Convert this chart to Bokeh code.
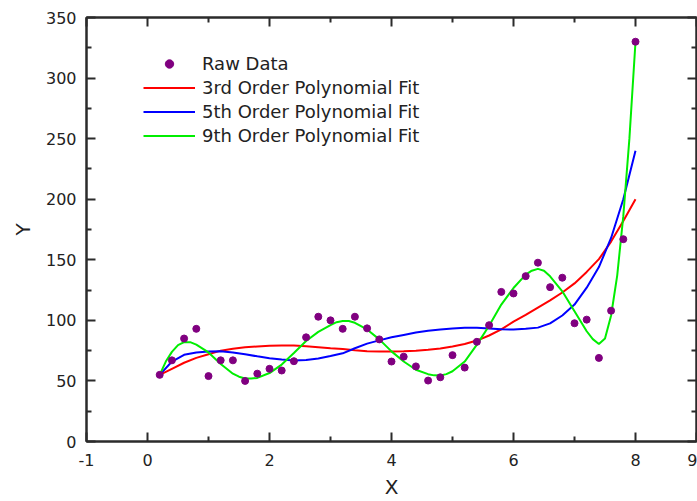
from bokeh.plotting import figure
from bokeh.models import LinearAxis, FixedTicker, Legend, LegendItem, Range1d
from bokeh.embed import file_html
from bokeh.resources import INLINE

# ---- data ----
x_raw = [0.2, 0.4, 0.6, 0.8, 1.0, 1.2, 1.4, 1.6, 1.8, 2.0,
         2.2, 2.4, 2.6, 2.8, 3.0, 3.2, 3.4, 3.6, 3.8, 4.0,
         4.2, 4.4, 4.6, 4.8, 5.0, 5.2, 5.4, 5.6, 5.8, 6.0,
         6.2, 6.4, 6.6, 6.8, 7.0, 7.2, 7.4, 7.6, 7.8, 8.0]
y_raw = [55, 67, 85, 93, 54, 67, 67, 50, 56, 60,
         58.6, 66.3, 86, 103, 100, 93, 103, 93.4, 84.3, 66,
         70, 62, 50.3, 53, 71.3, 61, 82.3, 96, 123.5, 122.2,
         136.5, 147.6, 127.4, 135.2, 97.6, 100.6, 69, 108, 167, 330]

x_fit = [0.2, 0.4, 0.6, 0.8, 1.0, 1.2, 1.4, 1.6, 1.8, 2.0,
         2.2, 2.4, 2.6, 2.8, 3.0, 3.2, 3.4, 3.6, 3.8, 4.0,
         4.2, 4.4, 4.6, 4.8, 5.0, 5.2, 5.4, 5.6, 5.8, 6.0,
         6.2, 6.4, 6.6, 6.8, 7.0, 7.2, 7.4, 7.6, 7.8, 8.0]
y_fit3 = [55, 60, 65, 69, 72, 75, 76.5, 77.8, 78.5, 79,
          79.3, 79.2, 78.6, 77.8, 77, 76.3, 75.3, 74.6, 74.3, 74.3,
          74.5, 75, 75.7, 76.8, 78.5, 80.5, 83.3, 87.5, 92.5, 99,
          104.5, 110.5, 116.5, 123, 130.5, 140, 150.5, 165, 182, 200]
y_fit5 = [55, 66, 71.6, 73.5, 74.3, 74.4, 73.4, 72, 70.3, 68.8,
          67.6, 66.8, 67.2, 68.6, 70.5, 72.8, 77, 80.8, 83.5, 86,
          88, 90, 91.5, 92.5, 93.3, 93.9, 93.8, 93.2, 92.6, 92.5,
          93, 94, 97.5, 104, 113, 127, 144, 168, 200, 240]

x_fit9 = [0.2, 0.3, 0.4, 0.5, 0.6, 0.7, 0.8, 1.0, 1.2, 1.4, 1.5, 1.6, 1.7, 1.8,
          2.0, 2.2, 2.4, 2.6, 2.8, 3.0, 3.1, 3.2, 3.3, 3.4, 3.6, 3.8, 4.0,
          4.2, 4.4, 4.6, 4.7, 4.8, 4.9, 5.0, 5.2, 5.4, 5.6, 5.8, 6.0, 6.2,
          6.3, 6.4, 6.5, 6.6, 6.8, 7.0, 7.2, 7.3, 7.4, 7.5, 7.6, 7.7, 7.8,
          7.9, 8.0]
y_fit9 = [55, 66, 74, 79.5, 82, 82, 80, 73.5, 64, 56, 53.5, 52, 52, 52.5,
          56.5, 63.5, 73, 83, 90.5, 96, 98.5, 99.5, 99.5, 98, 92.5, 84.3, 74.4,
          66, 59.2, 55.6, 54.6, 54.5, 55.6, 58, 66, 80, 95.5, 113, 126.7, 137.8,
          141, 142.5, 141, 136.4, 124, 107.5, 91, 84.5, 80.5, 85, 104, 137, 186,
          250, 330]

x_major = [-1, 0, 2, 4, 6, 8, 9]
x_minor = [1, 3, 5, 7]
y_major = [0, 50, 100, 150, 200, 250, 300, 350]
y_minor = [25, 75, 125, 175, 225, 275, 325]

labels = ["Raw Data", "3rd Order Polynomial Fit", "5th Order Polynomial Fit",
          "9th Order Polynomial Fit"]

FONT = "DejaVu Sans"
AX = "#2b2b2b"

p = figure(width=697, height=501, x_range=Range1d(-1, 9), y_range=Range1d(0, 350),
           output_backend="svg", toolbar_location=None,
           min_border_left=86, min_border_right=1, min_border_top=17, min_border_bottom=60)
p.xgrid.visible = False
p.ygrid.visible = False
p.outline_line_color = AX
p.outline_line_width = 2
p.background_fill_color = "white"
p.border_fill_color = "white"

top = LinearAxis()
right = LinearAxis()
p.add_layout(top, "above")
p.add_layout(right, "right")

def style(ax, ticks, minor, show):
    ax.ticker = FixedTicker(ticks=ticks, minor_ticks=minor)
    ax.major_tick_in = 9
    ax.major_tick_out = 0
    ax.minor_tick_in = 5
    ax.minor_tick_out = 0
    ax.axis_line_color = AX
    ax.axis_line_width = 2
    ax.major_tick_line_color = AX
    ax.major_tick_line_width = 2
    ax.minor_tick_line_color = AX
    ax.minor_tick_line_width = 2
    if show:
        ax.major_label_text_font = FONT
        ax.major_label_text_font_size = "16px"
        ax.major_label_text_color = "#222222"
        ax.axis_label_text_font = FONT
        ax.axis_label_text_font_size = "20px"
        ax.axis_label_text_font_style = "normal"
        ax.axis_label_text_color = "#222222"
    else:
        ax.major_label_text_font_size = "1px"
        ax.major_label_text_color = None
        ax.major_label_standoff = 0
        ax.axis_label = None

bx = p.below[0]
ly = p.left[0]
style(bx, x_major, x_minor, True)
style(ly, y_major, y_minor, True)
style(top, x_major, x_minor, False)
style(right, y_major, y_minor, False)
bx.axis_label = "X"
ly.axis_label = "Y"
bx.major_label_overrides = {-1: "-1"}
bx.major_label_standoff = 12
ly.major_label_standoff = 10
bx.axis_label_standoff = 6
ly.axis_label_standoff = 8

r3 = p.line(x_fit, y_fit3, line_color="#ff0000", line_width=2)
r5 = p.line(x_fit, y_fit5, line_color="#0000ff", line_width=2)
r9 = p.line(x_fit9, y_fit9, line_color="#00ee00", line_width=2)
rr = p.scatter(x_raw, y_raw, size=7, marker="circle", fill_color="#800080",
               line_color="#800080")

legend = Legend(items=[LegendItem(label=labels[0], renderers=[rr]),
                       LegendItem(label=labels[1], renderers=[r3]),
                       LegendItem(label=labels[2], renderers=[r5]),
                       LegendItem(label=labels[3], renderers=[r9])],
                location=(57, 295), padding=0, margin=0, spacing=3,
                glyph_width=52, glyph_height=21, label_height=21, label_standoff=7,
                label_text_font=FONT, label_text_font_size="18px",
                label_text_color="#222222",
                border_line_color=None, background_fill_alpha=0)
p.add_layout(legend)

open("out.html", "w").write(file_html(p, INLINE))
